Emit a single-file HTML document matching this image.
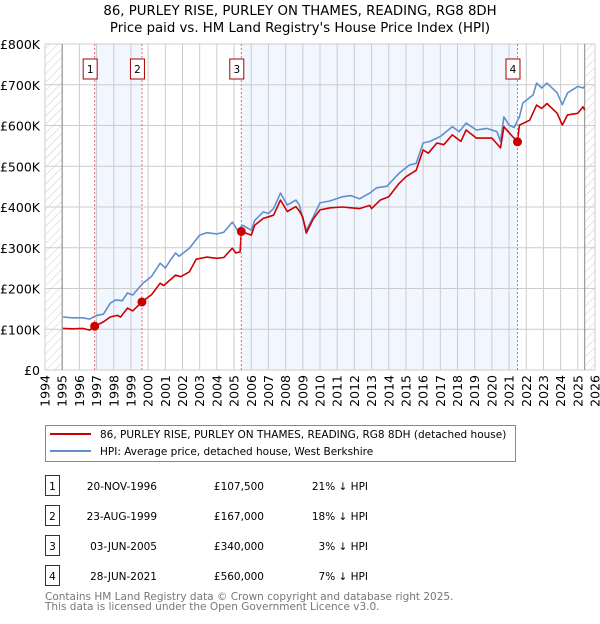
<!DOCTYPE html>
<html><head><meta charset="utf-8"><style>
body{margin:0;background:#fff;font-family:"DejaVu Sans","Liberation Sans",sans-serif;}
</style></head><body>
<svg width="600" height="620" viewBox="0 0 600 620" xmlns="http://www.w3.org/2000/svg" style="font-family:'DejaVu Sans','Liberation Sans',sans-serif">
<defs><pattern id="hatch" width="6" height="6" patternUnits="userSpaceOnUse" patternTransform="rotate(45)"><line x1="0" y1="0" x2="0" y2="6" stroke="#ccc" stroke-width="1"/></pattern></defs>
<text x="300" y="15" text-anchor="middle" font-size="13.3" fill="#000">86, PURLEY RISE, PURLEY ON THAMES, READING, RG8 8DH</text>
<text x="300" y="32" text-anchor="middle" font-size="13.3" fill="#000">Price paid vs. HM Land Registry's House Price Index (HPI)</text>
<g id="bands"></g><g id="grid"></g><g id="axes"></g><g id="series"></g><g id="marks"></g>
<g>
<rect x="45.5" y="425.5" width="470" height="36" fill="#fff" stroke="#888"/>
<line x1="50" y1="434" x2="91" y2="434" stroke="#cc0000" stroke-width="2"/>
<text x="100" y="438" font-size="10.5">86, PURLEY RISE, PURLEY ON THAMES, READING, RG8 8DH (detached house)</text>
<line x1="50" y1="451" x2="91" y2="451" stroke="#5f8fd0" stroke-width="2"/>
<text x="100" y="455" font-size="10.5">HPI: Average price, detached house, West Berkshire</text>
</g>
<g id="table" font-size="10.5"></g>
<text x="45" y="600" font-size="10.5" fill="#777">Contains HM Land Registry data © Crown copyright and database right 2025.</text>
<text x="45" y="610" font-size="10.5" fill="#777">This data is licensed under the Open Government Licence v3.0.</text>
</svg>
<script>
const hpiYears=[1995.05,1995.6,1996.2,1996.6,1997.0,1997.4,1997.8,1998.1,1998.5,1998.8,1999.1,1999.7,2000.2,2000.7,2001.0,2001.3,2001.6,2001.8,2002.4,2003.0,2003.4,2004.0,2004.4,2004.9,2005.2,2005.5,2006.0,2006.2,2006.7,2007.0,2007.3,2007.7,2008.1,2008.6,2008.8,2009.0,2009.2,2009.6,2010.0,2010.6,2011.3,2011.8,2012.3,2012.9,2013.3,2013.9,2014.6,2015.2,2015.6,2016.0,2016.4,2017.0,2017.7,2018.1,2018.5,2019.1,2019.7,2020.3,2020.5,2020.7,2021.0,2021.3,2021.6,2021.8,2022.4,2022.6,2022.9,2023.2,2023.8,2024.1,2024.4,2025.0,2025.3,2025.4];
const hpiValues=[130,128,128,125,134,137,164,172,170,189,184,213,230,262,250,270,287,279,299,331,337,334,338,363,343,355,343,367,388,384,396,434,405,417,405,370,343,375,410,415,425,428,420,434,447,451,483,503,507,557,561,573,597,585,606,589,593,585,561,621,601,595,621,655,675,704,692,704,680,651,680,696,692,696];
const ppYears=[1995.05,1995.6,1996.2,1996.6,1996.89,1997.4,1997.8,1998.2,1998.4,1998.8,1999.1,1999.64,2000.2,2000.7,2000.9,2001.6,2001.9,2002.4,2002.8,2003.4,2004.0,2004.4,2004.9,2005.1,2005.35,2005.42,2006.0,2006.2,2006.7,2007.0,2007.3,2007.7,2008.1,2008.6,2008.8,2009.0,2009.2,2009.6,2010.0,2010.6,2011.3,2011.8,2012.3,2012.9,2013.0,2013.5,2014.0,2014.6,2015.0,2015.6,2016.0,2016.3,2016.8,2017.2,2017.7,2018.2,2018.5,2019.1,2020.0,2020.5,2020.7,2021.2,2021.49,2021.6,2022.2,2022.6,2022.9,2023.2,2023.8,2024.1,2024.4,2025.0,2025.3,2025.4];
const ppValues=[102,101,102,98,107.5,118,130,134,130,152,145,167,185,213,207,233,229,241,272,277,274,276,299,287,290,340,331,355,372,376,380,417,389,401,390,375,336,370,393,398,400,398,396,404,396,417,425,458,474,490,540,532,557,553,577,561,589,569,569,545,597,573,560,601,613,650,642,654,630,601,626,630,646,638];
const salesYears=[1996.89,1999.64,2005.42,2021.49];
const salesValues=[107.5,167,340,560];
const salesLabels=["1","2","3","4"];
const salesDates=["20-NOV-1996","23-AUG-1999","03-JUN-2005","28-JUN-2021"];
const salesPrices=["£107,500","£167,000","£340,000","£560,000"];
const salesDiffs=["21% ↓ HPI","18% ↓ HPI","3% ↓ HPI","7% ↓ HPI"];
const yTicks=[0,100,200,300,400,500,600,700,800];
const yTickLabels=["£0","£100K","£200K","£300K","£400K","£500K","£600K","£700K","£800K"];
const xTicks=[1994,1995,1996,1997,1998,1999,2000,2001,2002,2003,2004,2005,2006,2007,2008,2009,2010,2011,2012,2013,2014,2015,2016,2017,2018,2019,2020,2021,2022,2023,2024,2025,2026];

const NS="http://www.w3.org/2000/svg";
const X0=45,X1=595,Y0=370,Y1=44;
const xs=y=>X0+(y-1994)/(2026-1994)*(X1-X0);
const ys=v=>Y0-v/800*(Y0-Y1);
function mk(tag,attrs,parent){const e=document.createElementNS(NS,tag);for(const k in attrs)e.setAttribute(k,attrs[k]);document.getElementById(parent).appendChild(e);return e;}

let e;
e=mk('rect',{x:X0,y:Y1,width:xs(1995)-X0,height:Y0-Y1,fill:'url(#hatch)'},'bands');


e=mk('rect',{x:xs(2025.4),y:Y1,width:X1-xs(2025.4),height:Y0-Y1,fill:'url(#hatch)'},'bands');


[[0,1],[2,3]].forEach(([a,b])=>{
 e=mk('rect',{x:xs(salesYears[a]),y:Y1,width:xs(salesYears[b])-xs(salesYears[a]),height:Y0-Y1,fill:'#f2f6fe'},'bands');
 
 
});
yTicks.forEach((t,i)=>{
 e=mk('line',{x1:X0,x2:X1,y1:ys(t),y2:ys(t),stroke:'#cccccc','stroke-width':1},'grid');
 
 
 e=mk('text',{x:40,y:ys(t)+5,'text-anchor':'end','font-size':12.5,fill:'#000'},'axes');
 e.textContent=yTickLabels[i];
 
 
});
xTicks.forEach(t=>{
 e=mk('line',{x1:xs(t),x2:xs(t),y1:Y1,y2:Y0,stroke:'#cccccc','stroke-width':1},'grid');
 
 
 e=mk('text',{x:0,y:0,'text-anchor':'end','font-size':12.5,fill:'#000',transform:`translate(${xs(t)+4.5},375) rotate(-90)`},'axes');
 e.textContent=t;
 
 
});
e=mk('line',{x1:xs(1995),x2:xs(1995),y1:Y1,y2:Y0,stroke:'#888'},'grid');


e=mk('line',{x1:xs(2025.4),x2:xs(2025.4),y1:Y1,y2:Y0,stroke:'#888'},'grid');


salesYears.forEach((y,i)=>{
 e=mk('line',{x1:xs(y),x2:xs(y),y1:Y1,y2:Y0,stroke:'#ee6677','stroke-width':1,'stroke-dasharray':'2,2'},'marks');
 
 
});
function path(xa,va,color,name){
 const d=xa.map((x,i)=>(i?'L':'M')+xs(x).toFixed(1)+','+ys(va[i]).toFixed(1)).join('');
 const p=mk('path',{d:d,fill:'none',stroke:color,'stroke-width':1.6,'stroke-linejoin':'round'},'series');
 
 
}
path(hpiYears,hpiValues,'#5f8fd0','hpi-line');
path(ppYears,ppValues,'#cc0000','price-paid-line');
salesYears.forEach((y,i)=>{
 e=mk('circle',{cx:xs(y),cy:ys(salesValues[i]),r:4.5,fill:'#cc0000'},'marks');
 
 
 e=mk('rect',{x:xs(y)-11.5,y:59,width:14,height:20,fill:'#fff',stroke:'#aa0000'},'marks');
 
 
 e=mk('text',{x:xs(y)-4.5,y:73,'text-anchor':'middle','font-size':10.5},'marks');
 e.textContent=salesLabels[i];
 
 
});
salesLabels.forEach((l,i)=>{
 const y0=476+i*30;
 e=mk('rect',{x:45.5,y:y0-0.5,width:14,height:20,fill:'#fff',stroke:'#aa0000'},'table');
 
 
 e=mk('text',{x:52.5,y:y0+14,'text-anchor':'middle'},'table');e.textContent=l;
 
 
 e=mk('text',{x:157,y:y0+14,'text-anchor':'end'},'table');e.textContent=salesDates[i];
 
 
 e=mk('text',{x:264,y:y0+14,'text-anchor':'end'},'table');e.textContent=salesPrices[i];
 
 
 e=mk('text',{x:368,y:y0+14,'text-anchor':'end'},'table');e.textContent=salesDiffs[i];
 
 
});
</script>
</body></html>
